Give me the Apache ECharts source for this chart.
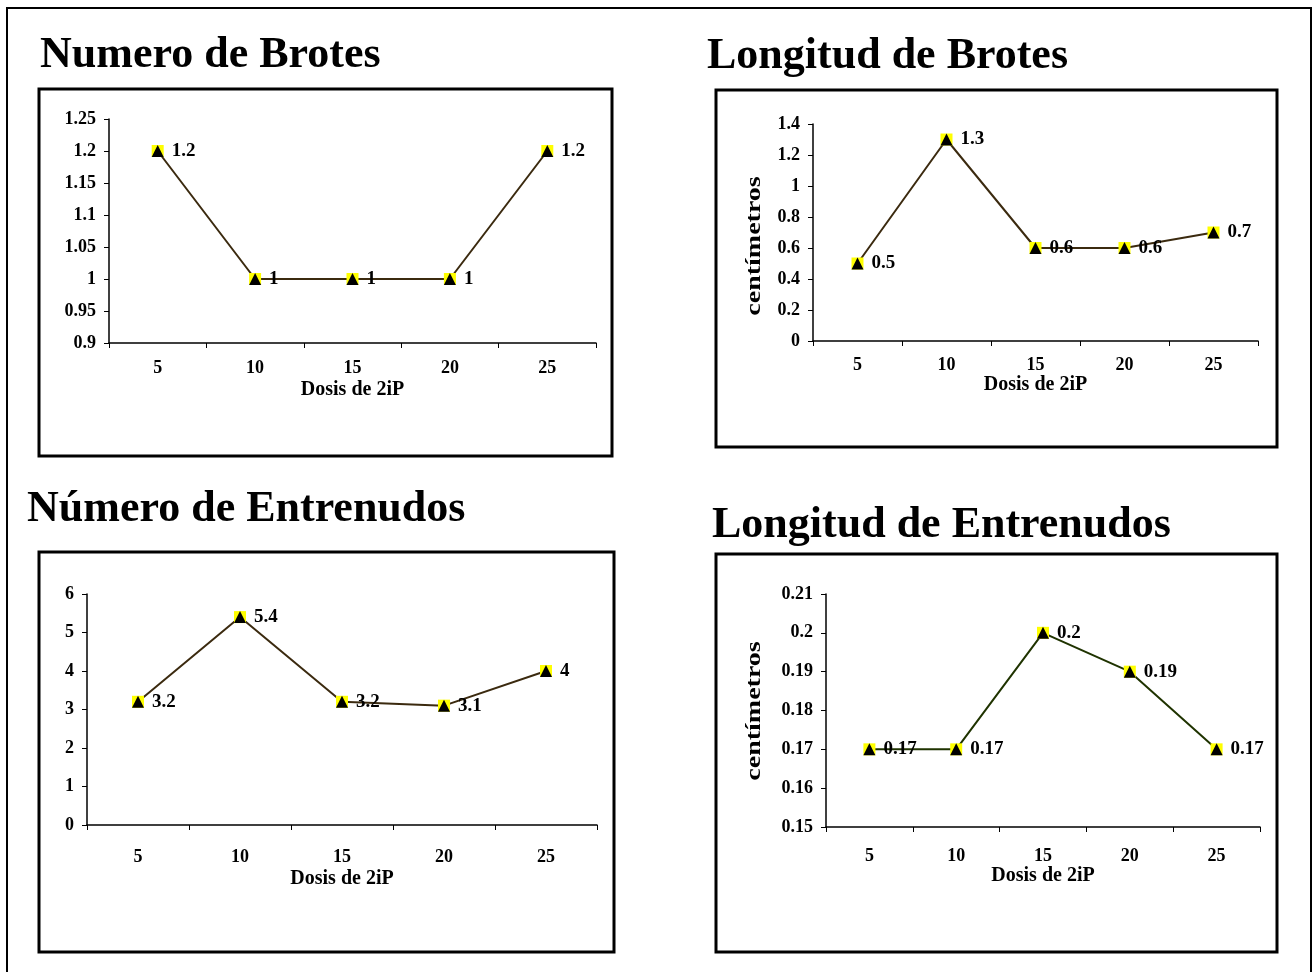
<!DOCTYPE html>
<html>
<head>
<meta charset="utf-8">
<title>Dosis de 2iP</title>
<script src="https://cdn.jsdelivr.net/npm/echarts@6/dist/echarts.min.js"></script>
<style>
  html, body { margin: 0; padding: 0; background: #fff; }
  #chart { width: 1313px; height: 972px; }
</style>
</head>
<body>
<div id="chart"></div>
<script>
// Doses of 2iP on the x axis of every panel
const doses = ['5', '10', '15', '20', '25'];

// Measured values per dose
const numeroBrotes = [1.2, 1, 1, 1, 1.2];
const longitudBrotes = [0.5, 1.3, 0.6, 0.6, 0.7];
const numeroEntrenudos = [3.2, 5.4, 3.2, 3.1, 4];
const longitudEntrenudos = [0.17, 0.17, 0.2, 0.19, 0.17];

// Panel titles and axis names
const titles = ['Numero de Brotes', 'Longitud de Brotes', 'Número de Entrenudos', 'Longitud de Entrenudos'];
const xName = 'Dosis de 2iP';
const yNames = ['', 'centímetros', '', 'centímetros'];

// Value-axis ranges [min, max, step]
const yRanges = [
  [0.9, 1.25, 0.05],
  [0, 1.4, 0.2],
  [0, 6, 1],
  [0.15, 0.21, 0.01]
];

const seriesData = [numeroBrotes, longitudBrotes, numeroEntrenudos, longitudEntrenudos];
const lineColors = ['#3b2a0f', '#3b2a0f', '#3b2a0f', '#1f3300'];

// Layout of each panel: plot area, framing box, title anchor,
// x tick-label margin / x-name gap, and the centre of the vertical y name
const layout = [
  { grid: { left: 109, top: 119, width: 487, height: 224 }, box: [39, 89, 573, 367], title: [40, 56], xMargin: 16, xGap: 37, yName: null },
  { grid: { left: 813, top: 124, width: 445, height: 217 }, box: [716, 90, 561, 357], title: [707, 57], xMargin: 15, xGap: 28, yName: [755, 246] },
  { grid: { left: 87, top: 594, width: 510, height: 231 }, box: [39, 552, 575, 400], title: [27, 510], xMargin: 23, xGap: 44, yName: null },
  { grid: { left: 826, top: 594, width: 434, height: 233 }, box: [716, 554, 561, 398], title: [712, 526], xMargin: 20, xGap: 35, yName: [755, 711] }
];

const FONT = '"Liberation Serif", "Times New Roman", serif';

const grids = [], xAxes = [], yAxes = [], series = [], graphics = [];

graphics.push({
  type: 'rect', silent: true,
  shape: { x: 7, y: 8, width: 1304, height: 1000 },
  style: { fill: 'none', stroke: '#000', lineWidth: 2 }
});

layout.forEach((p, i) => {
  grids.push(Object.assign({ containLabel: false }, p.grid));

  graphics.push({
    type: 'rect', silent: true,
    shape: { x: p.box[0], y: p.box[1], width: p.box[2], height: p.box[3] },
    style: { fill: 'none', stroke: '#000', lineWidth: 3 }
  });
  graphics.push({
    type: 'text', silent: true,
    x: p.title[0], y: p.title[1],
    style: { text: titles[i], font: 'bold 44px ' + FONT, fill: '#000', verticalAlign: 'middle', align: 'left' }
  });
  // vertical unit name, widened along its reading direction
  if (p.yName && yNames[i]) {
    graphics.push({
      type: 'text', silent: true,
      x: p.yName[0], y: p.yName[1], rotation: Math.PI / 2, scaleX: 1.4,
      style: { text: yNames[i], font: 'bold 20px ' + FONT, fill: '#000', verticalAlign: 'middle', align: 'center' }
    });
  }

  xAxes.push({
    type: 'category', gridIndex: i, data: doses, boundaryGap: true,
    name: xName, nameLocation: 'middle', nameGap: p.xGap,
    nameTextStyle: { fontFamily: FONT, fontWeight: 'bold', fontSize: 20, color: '#000' },
    axisLine: { lineStyle: { color: '#000', width: 1.5 } },
    axisTick: { show: true, length: 5, alignWithLabel: false, lineStyle: { color: '#000' } },
    axisLabel: { fontFamily: FONT, fontWeight: 'bold', fontSize: 18, color: '#000', margin: p.xMargin },
    splitLine: { show: false }
  });

  const r = yRanges[i];
  yAxes.push({
    type: 'value', gridIndex: i, min: r[0], max: r[1], interval: r[2],
    axisLine: { show: true, lineStyle: { color: '#000', width: 1.5 } },
    axisTick: { show: true, length: 5, lineStyle: { color: '#000' } },
    axisLabel: { fontFamily: FONT, fontWeight: 'bold', fontSize: 18, color: '#000', margin: 13 },
    splitLine: { show: false }
  });

  // connecting line with yellow square markers
  series.push({
    type: 'line', xAxisIndex: i, yAxisIndex: i, data: seriesData[i],
    symbol: 'rect', symbolSize: 12, showAllSymbol: true,
    itemStyle: { color: '#ffff00', borderWidth: 0 },
    lineStyle: { color: lineColors[i], width: 2 },
    emphasis: { disabled: true }, animation: false, z: 2
  });
  // black triangles on top, carrying the value labels
  series.push({
    type: 'scatter', xAxisIndex: i, yAxisIndex: i, data: seriesData[i],
    symbol: 'triangle', symbolSize: 12,
    itemStyle: { color: '#000', opacity: 1 },
    label: {
      show: true, position: 'right', distance: 8,
      fontFamily: FONT, fontWeight: 'bold', fontSize: 19,
      color: '#000', opacity: 1, textBorderWidth: 0
    },
    emphasis: { disabled: true }, animation: false, z: 3
  });
});

const chart = echarts.init(document.getElementById('chart'), null, { renderer: 'canvas' });
chart.setOption({
  backgroundColor: '#fff',
  animation: false,
  grid: grids,
  xAxis: xAxes,
  yAxis: yAxes,
  series: series,
  graphic: graphics
});
</script>
</body>
</html>
